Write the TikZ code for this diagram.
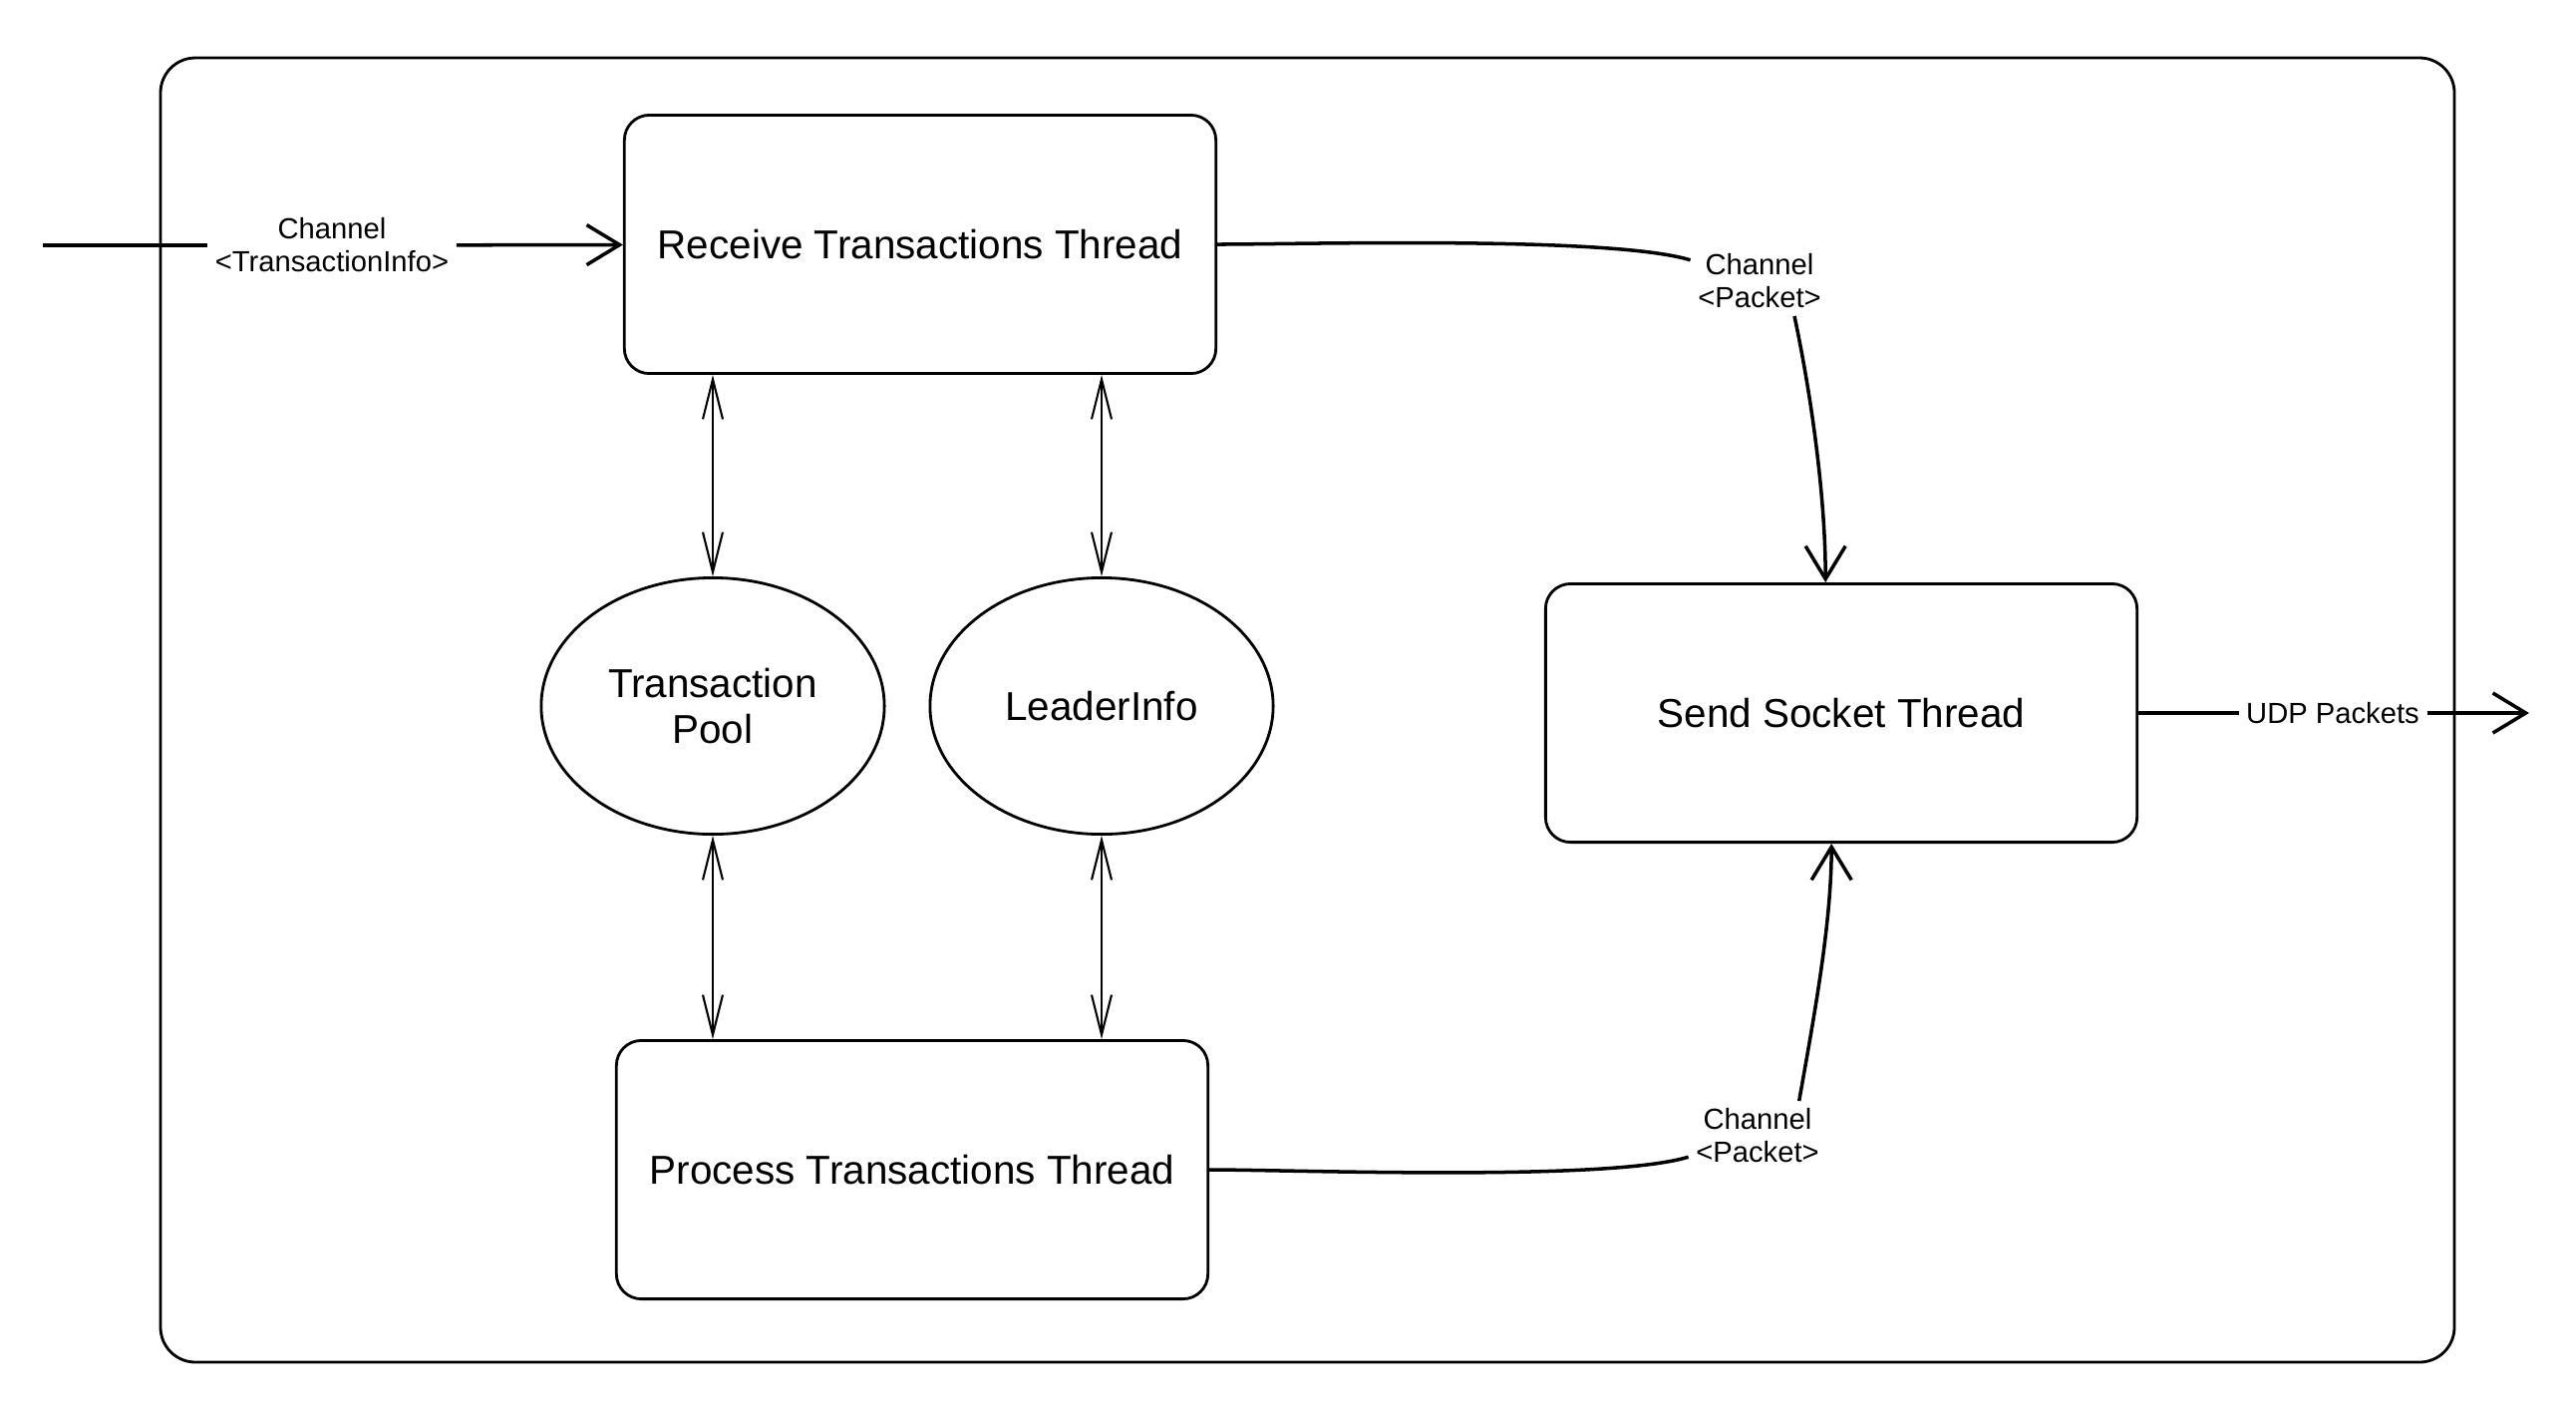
\documentclass[tikz,border=0pt]{standalone}
\usepackage{fontspec}
\setmainfont{Liberation Sans}
\usetikzlibrary{shapes.geometric}
\usetikzlibrary{arrows.meta}
\usetikzlibrary{math}

\begin{document}
\begin{tikzpicture}[x = 0.01cm, y = -0.01cm,
    thread/.style = {draw, line width = 0.8pt, rounded corners = 0.25cm, minimum width = 5.93cm, minimum height = 2.59cm, font = \fontsize{11.5}{13}\selectfont},
    store/.style = {draw, ellipse, line width = 0.8pt, minimum width = 3.44cm, minimum height = 2.57cm, inner sep = 0pt, align = center, font = \fontsize{11.5}{13}\selectfont},
    chan/.style = {inner sep = 2pt, align = center, font = \fontsize{8.3}{9.4}\selectfont},
    link/.style = {line width = 1pt},
    flow/.style = {line width = 1pt, -{Straight Barb[length = 0.33cm, width = 0.4cm]}},
    both/.style = {line width = 0.6pt, {Straight Barb[length = 0.4cm, width = 0.2cm]}-{Straight Barb[length = 0.4cm, width = 0.2cm]}}]
    \tikzmath{
        \lx = 161; \rx = 2462;
        \ty = 58; \by = 1366;
    }
    \useasboundingbox (0,0) rectangle (2584,1423);
    \draw[line width = 0.8pt, rounded corners = 0.35cm] (\lx,\ty) rectangle (\rx,\by);

    \node[thread] (recv) at (923,245) {Receive Transactions Thread};
    \node[thread] (proc) at (915,1173) {Process Transactions Thread};
    \node[thread] (send) at (1847,715) {Send Socket Thread};
    \node[store] (pool) at (715,708) {Transaction\\Pool};
    \node[store] (lead) at (1105,708) {LeaderInfo};

    \node[chan] (inch) at (333,246) {Channel\\<TransactionInfo>};
    \node[chan] (topch) at (1765,282) {Channel\\<Packet>};
    \node[chan] (botch) at (1763,1139) {Channel\\<Packet>};
    \node[chan] (udp) at (2340,715) {UDP Packets};
    \coordinate (src) at (43,246);
    \coordinate (dst) at (2537,715);

    \draw[link] (src) -- (inch);
    \draw[flow] (inch) -- (recv);
    \foreach \s in {pool,lead}{
        \draw[both] (recv.south -| \s.north) -- (\s.north);
        \draw[both] (\s.south) -- (proc.north -| \s.south);
    }
    \draw[link] (recv.east) to[out = 0, in = 163, looseness = 0.45] (topch);
    \draw[flow] (topch.-45) to[out = -78, in = 90, looseness = 0.8] ([xshift = -4.5pt]send.north);
    \draw[link] (proc.east) to[out = 0, in = 197, looseness = 0.45] (botch);
    \draw[flow] (botch.40) to[out = 80, in = -90, looseness = 0.8] ([xshift = -2.8pt]send.south);
    \draw[link] (send) -- (udp);
    \draw[flow] (udp) -- (dst);
\end{tikzpicture}
\end{document}
